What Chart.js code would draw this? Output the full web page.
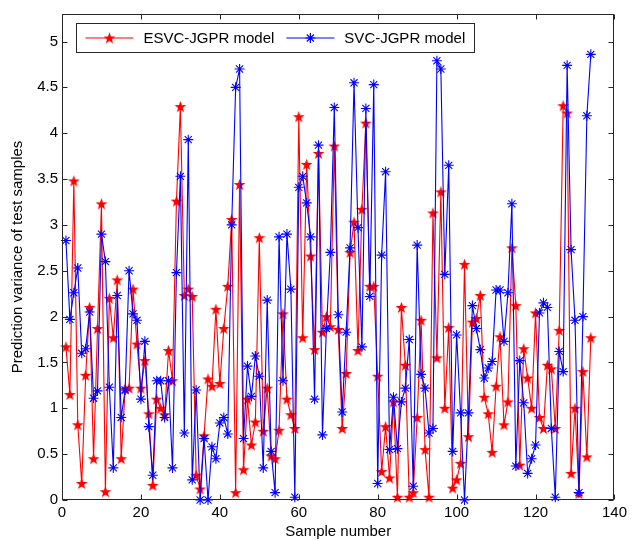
<!DOCTYPE html>
<html>
<head>
<meta charset="utf-8">
<script src="https://cdn.jsdelivr.net/npm/chart.js@4.4.0/dist/chart.umd.min.js"></script>
<style>
  html, body { margin: 0; padding: 0; background: #fff; }
</style>
</head>
<body>
<canvas id="chart" width="631" height="541"></canvas>
<script>
// Дисперсия прогноза по образцам
const esvcValues = [
  1.67, 1.15, 3.48, 0.82, 0.18, 1.36, 2.10, 0.45, 1.87, 3.23,
  0.09, 2.20, 1.77, 2.40, 0.45, 1.21, 1.22, 2.30, 1.70, 1.22,
  1.52, 0.94, 0.16, 1.10, 1.00, 0.93, 1.63, 1.30, 3.26, 4.29,
  2.23, 2.30, 2.22, 0.27, 0.12, 0.70, 1.32, 1.24, 2.08, 1.27,
  1.87, 2.33, 3.06, 0.08, 3.44, 0.33, 1.10, 0.60, 0.85, 2.86,
  0.75, 1.22, 0.48, 0.45, 0.76, 2.03, 1.10, 0.93, 0.78, 4.18,
  1.77, 3.66, 2.66, 1.64, 3.78, 1.83, 2.00, 1.89, 3.86, 1.86,
  0.78, 1.38, 2.70, 3.03, 1.63, 3.17, 4.11, 2.33, 2.33, 1.35,
  0.31, 0.80, 0.24, 1.07, 0.03, 2.10, 1.47, 0.03, 0.08, 0.90,
  1.96, 0.55, 0.03, 3.13, 1.55, 3.36, 1.00, 1.88, 0.13, 0.22,
  0.40, 2.57, 0.69, 1.94, 1.98, 2.23, 1.12, 0.94, 0.52, 1.24,
  1.78, 0.82, 1.07, 2.75, 2.12, 0.38, 1.65, 1.33, 1.00, 2.04,
  0.90, 0.78, 1.47, 1.43, 0.78, 1.85, 4.30, 4.22, 0.29, 1.00,
  0.07, 1.40, 0.47, 1.77
];
const svcValues = [
  2.83, 1.97, 2.26, 2.53, 1.60, 1.65, 2.05, 1.11, 1.19, 2.90,
  2.60, 1.23, 0.35, 2.23, 0.90, 1.20, 2.50, 2.03, 1.96, 1.10,
  1.73, 0.80, 0.27, 1.30, 1.30, 0.90, 1.30, 0.35, 2.48, 3.53,
  0.73, 3.93, 0.22, 1.20, 0.00, 0.67, 0.00, 0.58, 0.45, 0.84,
  0.90, 0.72, 3.00, 4.50, 4.70, 0.67, 1.46, 1.13, 1.57, 1.35,
  0.35, 2.18, 0.53, 0.08, 2.87, 1.30, 2.90, 2.30, 0.03, 3.41,
  3.53, 3.24, 2.87, 1.10, 3.87, 0.71, 1.87, 2.70, 4.28, 2.02,
  0.96, 1.83, 2.75, 4.55, 2.97, 1.67, 4.27, 2.22, 4.53, 0.18,
  2.67, 3.58, 0.55, 1.12, 0.56, 1.07, 1.22, 1.75, 0.15, 2.78,
  1.37, 1.22, 0.73, 0.78, 4.79, 4.70, 2.46, 3.65, 0.53, 1.80,
  0.95, 0.00, 0.95, 2.12, 1.87, 1.64, 1.33, 1.44, 1.51, 2.29,
  2.29, 1.73, 2.26, 3.23, 0.37, 1.52, 1.06, 0.29, 0.45, 0.60,
  2.04, 2.15, 2.10, 0.78, 0.03, 1.62, 1.40, 4.74, 2.73, 1.96,
  0.08, 2.00, 4.19, 4.86
];
const sampleNumbers = esvcValues.map((v, i) => i + 1);
const xTicks = [0, 20, 40, 60, 80, 100, 120, 140];
const yTicks = [0, 0.5, 1, 1.5, 2, 2.5, 3, 3.5, 4, 4.5, 5];
const seriesNames = ['ESVC-JGPR model', 'SVC-JGPR model'];

const FONT = { family: "'Liberation Sans', Arial, sans-serif", size: 15 };

// Закрашенная пятиконечная звезда (маркер 'p' из MATLAB)
function pentagram(color) {
  const c = document.createElement('canvas');
  c.width = 13; c.height = 13;
  const g = c.getContext('2d');
  g.fillStyle = color;
  g.beginPath();
  for (let i = 0; i < 10; i++) {
    const r = i % 2 ? 2.5 : 6.2;
    const a = -Math.PI / 2 + i * Math.PI / 5;
    const px = 6.5 + r * Math.cos(a), py = 7 + r * Math.sin(a);
    if (i) g.lineTo(px, py); else g.moveTo(px, py);
  }
  g.closePath();
  g.fill();
  return c;
}
const redStar = pentagram('#ff0000');

function drawAsterisk(ctx, cx, cy, r) {
  ctx.beginPath();
  ctx.moveTo(cx - r, cy); ctx.lineTo(cx + r, cy);
  ctx.moveTo(cx, cy - r); ctx.lineTo(cx, cy + r);
  const d = r * Math.SQRT1_2;
  ctx.moveTo(cx - d, cy - d); ctx.lineTo(cx + d, cy + d);
  ctx.moveTo(cx - d, cy + d); ctx.lineTo(cx + d, cy - d);
  ctx.stroke();
}

// Рамка с засечками внутрь и легенда внутри области графика
const matlabBox = {
  id: 'matlabBox',
  afterDraw(chart) {
    const { ctx, chartArea: a, scales: { x, y } } = chart;
    const L = Math.round(a.left) + 0.5, R = Math.round(a.right) - 0.5;
    const T = Math.round(a.top) + 0.5, B = Math.round(a.bottom) - 0.5;
    ctx.save();
    ctx.strokeStyle = '#262626';
    ctx.lineWidth = 1;
    ctx.strokeRect(L, T, R - L, B - T);
    ctx.beginPath();
    x.ticks.forEach(t => {
      const px = Math.round(x.getPixelForValue(t.value)) + 0.5;
      ctx.moveTo(px, B); ctx.lineTo(px, B - 5);
      ctx.moveTo(px, T); ctx.lineTo(px, T + 5);
    });
    y.ticks.forEach(t => {
      const py = Math.round(y.getPixelForValue(t.value)) + 0.5;
      ctx.moveTo(L, py); ctx.lineTo(L + 5, py);
      ctx.moveTo(R, py); ctx.lineTo(R - 5, py);
    });
    ctx.stroke();

    // легенда
    ctx.font = FONT.size + 'px ' + FONT.family;
    const w1 = ctx.measureText(seriesNames[0]).width;
    const w2 = ctx.measureText(seriesNames[1]).width;
    const lx = Math.round(a.left + 14) + 0.5, ly = Math.round(a.top + 9) + 0.5;
    const lw = Math.round(9 + 58 + w1 + 12 + 58 + w2 + 9), lh = 29;
    ctx.fillStyle = '#fff';
    ctx.fillRect(lx, ly, lw, lh);
    ctx.strokeStyle = '#262626';
    ctx.strokeRect(lx, ly, lw, lh);
    const cy = ly + lh / 2;
    const ds = chart.data.datasets;
    let x0 = lx + 9;
    [w1, w2].forEach((w, i) => {
      ctx.strokeStyle = ds[i].borderColor;
      ctx.lineWidth = 1.2;
      ctx.beginPath();
      ctx.moveTo(x0, cy); ctx.lineTo(x0 + 48, cy);
      ctx.stroke();
      if (i === 0) {
        ctx.drawImage(redStar, x0 + 24 - redStar.width / 2, cy - redStar.height / 2);
      } else {
        drawAsterisk(ctx, x0 + 24, cy, 5);
      }
      ctx.fillStyle = '#000';
      ctx.textBaseline = 'middle';
      ctx.fillText(seriesNames[i], x0 + 58, cy + 1);
      x0 += 58 + w + 12;
    });
    ctx.restore();
  }
};

new Chart(document.getElementById('chart').getContext('2d'), {
  type: 'line',
  data: {
    datasets: [{
      label: seriesNames[0],
      data: sampleNumbers.map((n, i) => ({ x: n, y: esvcValues[i] })),
      borderColor: '#ff0000',
      backgroundColor: '#ff0000',
      borderWidth: 1.1,
      pointStyle: redStar,
      pointRadius: 5,
      tension: 0,
      clip: false,
      order: 1
    }, {
      label: seriesNames[1],
      data: sampleNumbers.map((n, i) => ({ x: n, y: svcValues[i] })),
      borderColor: '#0000ff',
      backgroundColor: '#0000ff',
      borderWidth: 1.1,
      pointStyle: 'star',
      pointRadius: 5,
      pointBorderWidth: 1.1,
      tension: 0,
      clip: false,
      order: 0
    }]
  },
  options: {
    responsive: false,
    animation: false,
    layout: { padding: { top: 14, right: 14, left: 0, bottom: 0 } },
    plugins: { legend: { display: false }, tooltip: { enabled: false } },
    scales: {
      x: {
        type: 'linear',
        min: 0,
        max: 140,
        afterBuildTicks: s => { s.ticks = xTicks.map(v => ({ value: v })); },
        afterFit: s => { s.height = 41; },
        grid: { display: false, drawTicks: false },
        border: { display: false },
        ticks: { font: FONT, color: '#000', padding: 4, maxRotation: 0, callback: v => String(v) },
        title: { display: true, text: 'Sample number', font: FONT, color: '#000', padding: { top: 0, bottom: 0 } }
      },
      y: {
        type: 'linear',
        min: 0,
        max: 5.3,
        afterBuildTicks: s => { s.ticks = yTicks.map(v => ({ value: v })); },
        afterFit: s => { s.width = 62; },
        grid: { display: false, drawTicks: false },
        border: { display: false },
        ticks: { font: FONT, color: '#000', padding: 4, callback: v => String(v) },
        title: { display: true, text: 'Prediction variance of test samples', font: FONT, color: '#000', padding: { top: 9, bottom: 0 } }
      }
    }
  },
  plugins: [matlabBox]
});
</script>
</body>
</html>
